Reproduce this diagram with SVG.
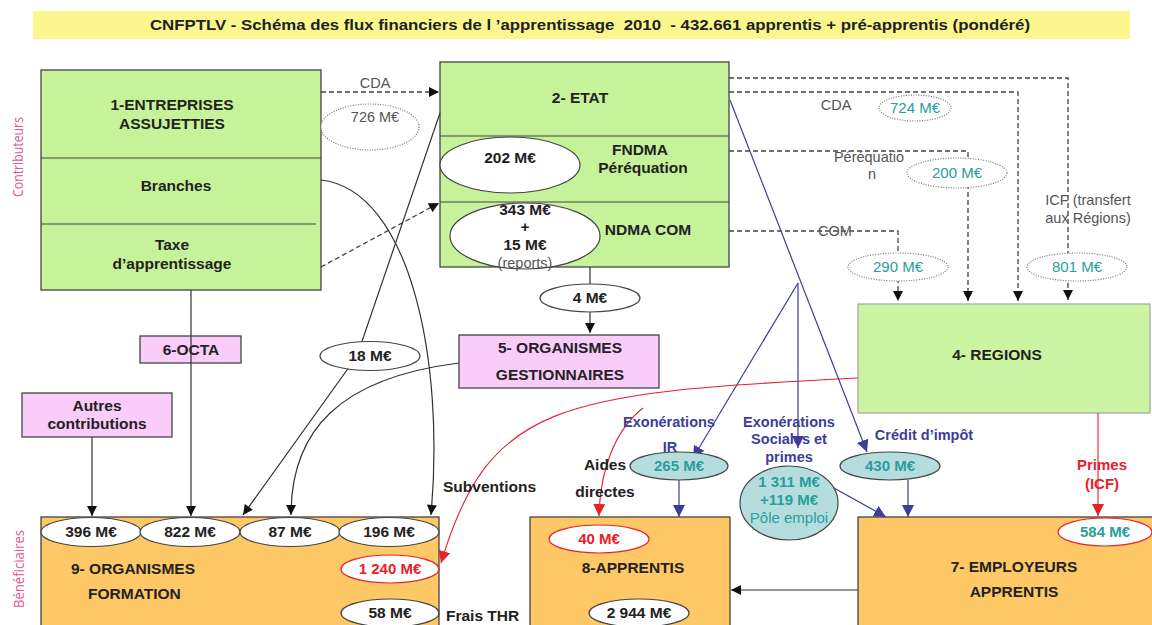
<svg xmlns="http://www.w3.org/2000/svg" width="1152" height="625" viewBox="0 0 1152 625">
<defs>
<style>
.t{font-family:"Liberation Sans",Arial,sans-serif;font-weight:bold;font-size:15.5px;fill:#222;text-anchor:middle}
.tl{font-family:"Liberation Sans",Arial,sans-serif;font-weight:bold;font-size:15.5px;fill:#222}
.g{font-family:"Liberation Sans",Arial,sans-serif;font-size:14.5px;fill:#555;text-anchor:middle}
.teal{font-family:"Liberation Sans",Arial,sans-serif;font-size:15px;fill:#2a9d9d;text-anchor:middle}
.tealb{font-family:"Liberation Sans",Arial,sans-serif;font-weight:bold;font-size:15px;fill:#2a9d9d;text-anchor:middle}
.pur{font-family:"Liberation Sans",Arial,sans-serif;font-weight:bold;font-size:14.5px;fill:#3d3d99;text-anchor:middle}
.red{font-family:"Liberation Sans",Arial,sans-serif;font-weight:bold;font-size:15px;fill:#e8202a;text-anchor:middle}
.side{font-family:"Open Sans","Liberation Sans",sans-serif;font-size:14px;fill:#e0588e;text-anchor:middle}
.green{fill:#c6f29a;stroke:#444;stroke-width:1.3}
.green2{fill:#ccf5a3;stroke:#aaa;stroke-width:1.3}
.orange{fill:#fdc865;stroke:#444;stroke-width:1.3}
.pink{fill:#f9ccf9;stroke:#444;stroke-width:1.3}
.ell{fill:#fff;stroke:#444;stroke-width:1.2}
.dotell{fill:#fff;stroke:#777;stroke-width:1.2;stroke-dasharray:1 1.5}
.redell{fill:#fff;stroke:#e8202a;stroke-width:1.2}
.tealell{fill:#b5dddd;stroke:#444;stroke-width:1.2}
.ln{fill:none;stroke:#333;stroke-width:1.2}
.dash{fill:none;stroke:#444;stroke-width:1.3;stroke-dasharray:5 3}
.pl{fill:none;stroke:#3d3d99;stroke-width:1.2}
.rl{fill:none;stroke:#e8202a;stroke-width:1.1}
</style>
<marker id="ab" viewBox="0 0 10 10" refX="10" refY="5" markerWidth="11" markerHeight="10" markerUnits="userSpaceOnUse" orient="auto"><path d="M0,0 L10,5 L0,10 z" fill="#111"/></marker>
<marker id="ap" viewBox="0 0 10 10" refX="10" refY="5" markerWidth="12" markerHeight="12" markerUnits="userSpaceOnUse" orient="auto"><path d="M0,0 L10,5 L0,10 z" fill="#3d3d99"/></marker>
<marker id="ar" viewBox="0 0 10 10" refX="10" refY="5" markerWidth="12" markerHeight="12" markerUnits="userSpaceOnUse" orient="auto"><path d="M0,0 L10,5 L0,10 z" fill="#e8202a"/></marker>
</defs>
<rect width="1152" height="625" fill="#fff"/>

<g id="title">
<rect x="33" y="11" width="1097" height="28" fill="#fbf78e"/>
<text x="590" y="30" class="t" font-size="14" textLength="880" lengthAdjust="spacingAndGlyphs" xml:space="preserve">CNFPTLV - Schéma des flux financiers de l ’apprentissage  2010  - 432.661 apprentis + pré-apprentis (pondéré)</text>
</g>

<g id="side-labels">
<text class="side" transform="translate(23,157) rotate(-90)" textLength="80" lengthAdjust="spacingAndGlyphs">Contributeurs</text>
<text class="side" transform="translate(24,569) rotate(-90)" textLength="78" lengthAdjust="spacingAndGlyphs">Bénéficiaires</text>
</g>

<g id="n1-entreprises">
<rect x="41" y="70" width="280" height="220" class="green"/>
<line x1="41" y1="158" x2="321" y2="158" stroke="#444" stroke-width="1.2"/>
<line x1="41" y1="224" x2="316" y2="224" stroke="#444" stroke-width="1.2"/>
<text x="172" y="110" class="t">1-ENTREPRISES</text>
<text x="172" y="129" class="t">ASSUJETTIES</text>
<text x="176" y="191" class="t">Branches</text>
<text x="172" y="250" class="t">Taxe</text>
<text x="172" y="269" class="t">d’apprentissage</text>
</g>

<g id="n2-etat">
<rect x="440" y="62" width="289" height="205" class="green"/>
<line x1="440" y1="136" x2="729" y2="136" stroke="#444" stroke-width="1.2"/>
<line x1="440" y1="202" x2="729" y2="202" stroke="#444" stroke-width="1.2"/>
<text x="580" y="103" class="t">2- ETAT</text>
<text x="640" y="155" class="t">FNDMA</text>
<text x="643" y="173" class="t">Péréquation</text>
<text x="648" y="235" class="t">NDMA COM</text>
</g>

<g id="n4-regions">
<rect x="858" y="304" width="292" height="109" class="green2"/>
<text x="997" y="360" class="t">4- REGIONS</text>
</g>

<g id="n5-organismes-gestionnaires">
<rect x="459" y="335" width="200" height="53" class="pink"/>
<text x="560" y="353" class="t">5- ORGANISMES</text>
<text x="560" y="380" class="t">GESTIONNAIRES</text>
</g>

<g id="n6-octa">
<rect x="140" y="336" width="101" height="27" class="pink"/>
<text x="191" y="355" class="t">6-OCTA</text>
</g>

<g id="autres">
<rect x="22" y="393" width="150" height="44" class="pink"/>
<text x="97" y="411" class="t">Autres</text>
<text x="97" y="429" class="t">contributions</text>
</g>

<g id="n9-organismes-formation">
<rect x="41" y="517" width="398" height="120" class="orange"/>
<text x="71" y="574" class="tl">9- ORGANISMES</text>
<text x="88" y="599" class="tl">FORMATION</text>
</g>

<g id="n8-apprentis">
<rect x="530" y="517" width="200" height="120" class="orange"/>
<text x="633" y="573" class="t">8-APPRENTIS</text>
</g>

<g id="n7-employeurs">
<rect x="858" y="517" width="300" height="120" class="orange"/>
<text x="1014" y="572" class="t">7- EMPLOYEURS</text>
<text x="1014" y="597" class="t">APPRENTIS</text>
</g>

<g id="connectors">
<line x1="321" y1="92" x2="439" y2="92" class="dash" marker-end="url(#ab)"/>
<line x1="321" y1="267" x2="439" y2="203" class="dash" marker-end="url(#ab)"/>
<path d="M729,78 H1068 V300" class="dash" marker-end="url(#ab)"/>
<path d="M729,92 H1018 V301" class="dash" marker-end="url(#ab)"/>
<path d="M729,151 H968 V301" class="dash" marker-end="url(#ab)"/>
<path d="M729,231 H898 V301" class="dash" marker-end="url(#ab)"/>
<path d="M590,267 V333" class="ln" marker-end="url(#ab)"/>
<path d="M191,290 V516" class="ln" marker-end="url(#ab)"/>
<path d="M92,437 V516" class="ln" marker-end="url(#ab)"/>
<path d="M440,113 L357,356 L243,515" class="ln" marker-end="url(#ab)"/>
<path d="M321,180 C410,190 445,360 431,515" class="ln" marker-end="url(#ab)"/>
<path d="M459,363 C340,378 291,430 291,515" class="ln" marker-end="url(#ab)"/>
<path d="M730,100 L867,452" class="pl" marker-end="url(#ap)"/>
<path d="M798,283 L693,458" class="pl" marker-end="url(#ap)"/>
<path d="M798,283 V448" class="pl" marker-end="url(#ap)"/>
<path d="M679,480 V517" class="pl" marker-end="url(#ap)"/>
<path d="M908,480 V517" class="pl" marker-end="url(#ap)"/>
<path d="M834,488 L886,517" class="pl" marker-end="url(#ap)"/>
<path d="M858,378 C558,393 489,403 441,563" class="rl" marker-end="url(#ar)"/>
<path d="M643,408 C615,430 600,470 599,516" class="rl" marker-end="url(#ar)"/>
<path d="M1098,413 V516" class="rl" marker-end="url(#ar)"/>
<path d="M858,590 H731" class="ln" marker-end="url(#ab)"/>
</g>

<g id="labels">
<text x="375" y="88" class="g">CDA</text>
<text x="836" y="110" class="g">CDA</text>
<text x="869" y="162" class="g">Péréquatio</text>
<text x="872" y="179" class="g">n</text>
<text x="835" y="236" class="g">COM</text>
<text x="1088" y="205" class="g">ICF (transfert</text>
<text x="1088" y="223" class="g">aux Régions)</text>
<text x="669" y="427" class="pur">Exonérations</text>
<text x="670" y="452" class="pur">IR</text>
<text x="789" y="427" class="pur">Exonérations</text>
<text x="789" y="444" class="pur">Sociales et</text>
<text x="789" y="462" class="pur">primes</text>
<text x="924" y="440" class="pur">Crédit d’impôt</text>
<text x="1102" y="470" class="red">Primes</text>
<text x="1102" y="489" class="red">(ICF)</text>
<text x="443" y="492" class="tl">Subventions</text>
<text x="605" y="470" class="t">Aides</text>
<text x="605" y="497" class="t">directes</text>
<text x="446" y="621" class="tl">Frais THR</text>
</g>

<g id="e-726"><ellipse cx="370" cy="127" rx="49" ry="23" class="dotell"/><text x="375" y="122" class="g">726 M€</text></g>
<g id="e-202"><ellipse cx="510" cy="165" rx="70" ry="28" class="ell"/><text x="510" y="163" class="t">202 M€</text></g>
<g id="e-343"><ellipse cx="525" cy="236" rx="75" ry="33" class="ell"/>
<text x="525" y="215" class="t">343 M€</text><text x="525" y="232" class="t">+</text><text x="525" y="250" class="t">15 M€</text><text x="525" y="268" class="g">(reports)</text></g>
<g id="e-4"><ellipse cx="590" cy="298" rx="50" ry="14" class="ell"/><text x="590" y="303" class="t">4 M€</text></g>
<g id="e-724"><ellipse cx="915" cy="108" rx="36" ry="13" class="dotell"/><text x="915" y="113" class="teal">724 M€</text></g>
<g id="e-200"><ellipse cx="957" cy="173" rx="50" ry="15" class="dotell"/><text x="957" y="178" class="teal">200 M€</text></g>
<g id="e-290"><ellipse cx="898" cy="267" rx="50" ry="14" class="dotell"/><text x="898" y="272" class="teal">290 M€</text></g>
<g id="e-801"><ellipse cx="1077" cy="267" rx="50" ry="14" class="dotell"/><text x="1077" y="272" class="teal">801 M€</text></g>
<g id="e-18"><ellipse cx="370" cy="356" rx="50" ry="14.5" class="ell"/><text x="370" y="361" class="t">18 M€</text></g>
<g id="e-265"><ellipse cx="679" cy="466" rx="49" ry="14" class="tealell"/><text x="679" y="471" class="tealb">265 M€</text></g>
<g id="e-1311"><ellipse cx="789" cy="503" rx="49" ry="37" class="tealell"/>
<text x="789" y="487" class="tealb">1 311 M€</text><text x="789" y="505" class="tealb">+119 M€</text><text x="789" y="523" class="teal" fill="#5fb8b8">Pôle emploi</text></g>
<g id="e-430"><ellipse cx="890" cy="466" rx="50" ry="14" class="tealell"/><text x="890" y="471" class="tealb">430 M€</text></g>
<g id="e-396"><ellipse cx="91" cy="532" rx="50" ry="14.5" class="ell"/><text x="91" y="537" class="t">396 M€</text></g>
<g id="e-822"><ellipse cx="190" cy="532" rx="50" ry="14.5" class="ell"/><text x="190" y="537" class="t">822 M€</text></g>
<g id="e-87"><ellipse cx="290" cy="532" rx="50" ry="14.5" class="ell"/><text x="290" y="537" class="t">87 M€</text></g>
<g id="e-196"><ellipse cx="389" cy="532" rx="50" ry="14.5" class="ell"/><text x="389" y="537" class="t">196 M€</text></g>
<g id="e-1240"><ellipse cx="390" cy="569" rx="49" ry="14" class="redell"/><text x="390" y="574" class="red">1 240 M€</text></g>
<g id="e-58"><ellipse cx="390" cy="613" rx="49" ry="14" class="ell"/><text x="390" y="618" class="t">58 M€</text></g>
<g id="e-40"><ellipse cx="599" cy="539" rx="50" ry="14" class="redell"/><text x="599" y="544" class="red">40 M€</text></g>
<g id="e-2944"><ellipse cx="639" cy="613" rx="50" ry="14" class="ell"/><text x="639" y="618" class="t">2 944 M€</text></g>
<g id="e-584"><ellipse cx="1105" cy="532" rx="47" ry="14" class="redell"/><text x="1105" y="537" class="tealb">584 M€</text></g>
</svg>
